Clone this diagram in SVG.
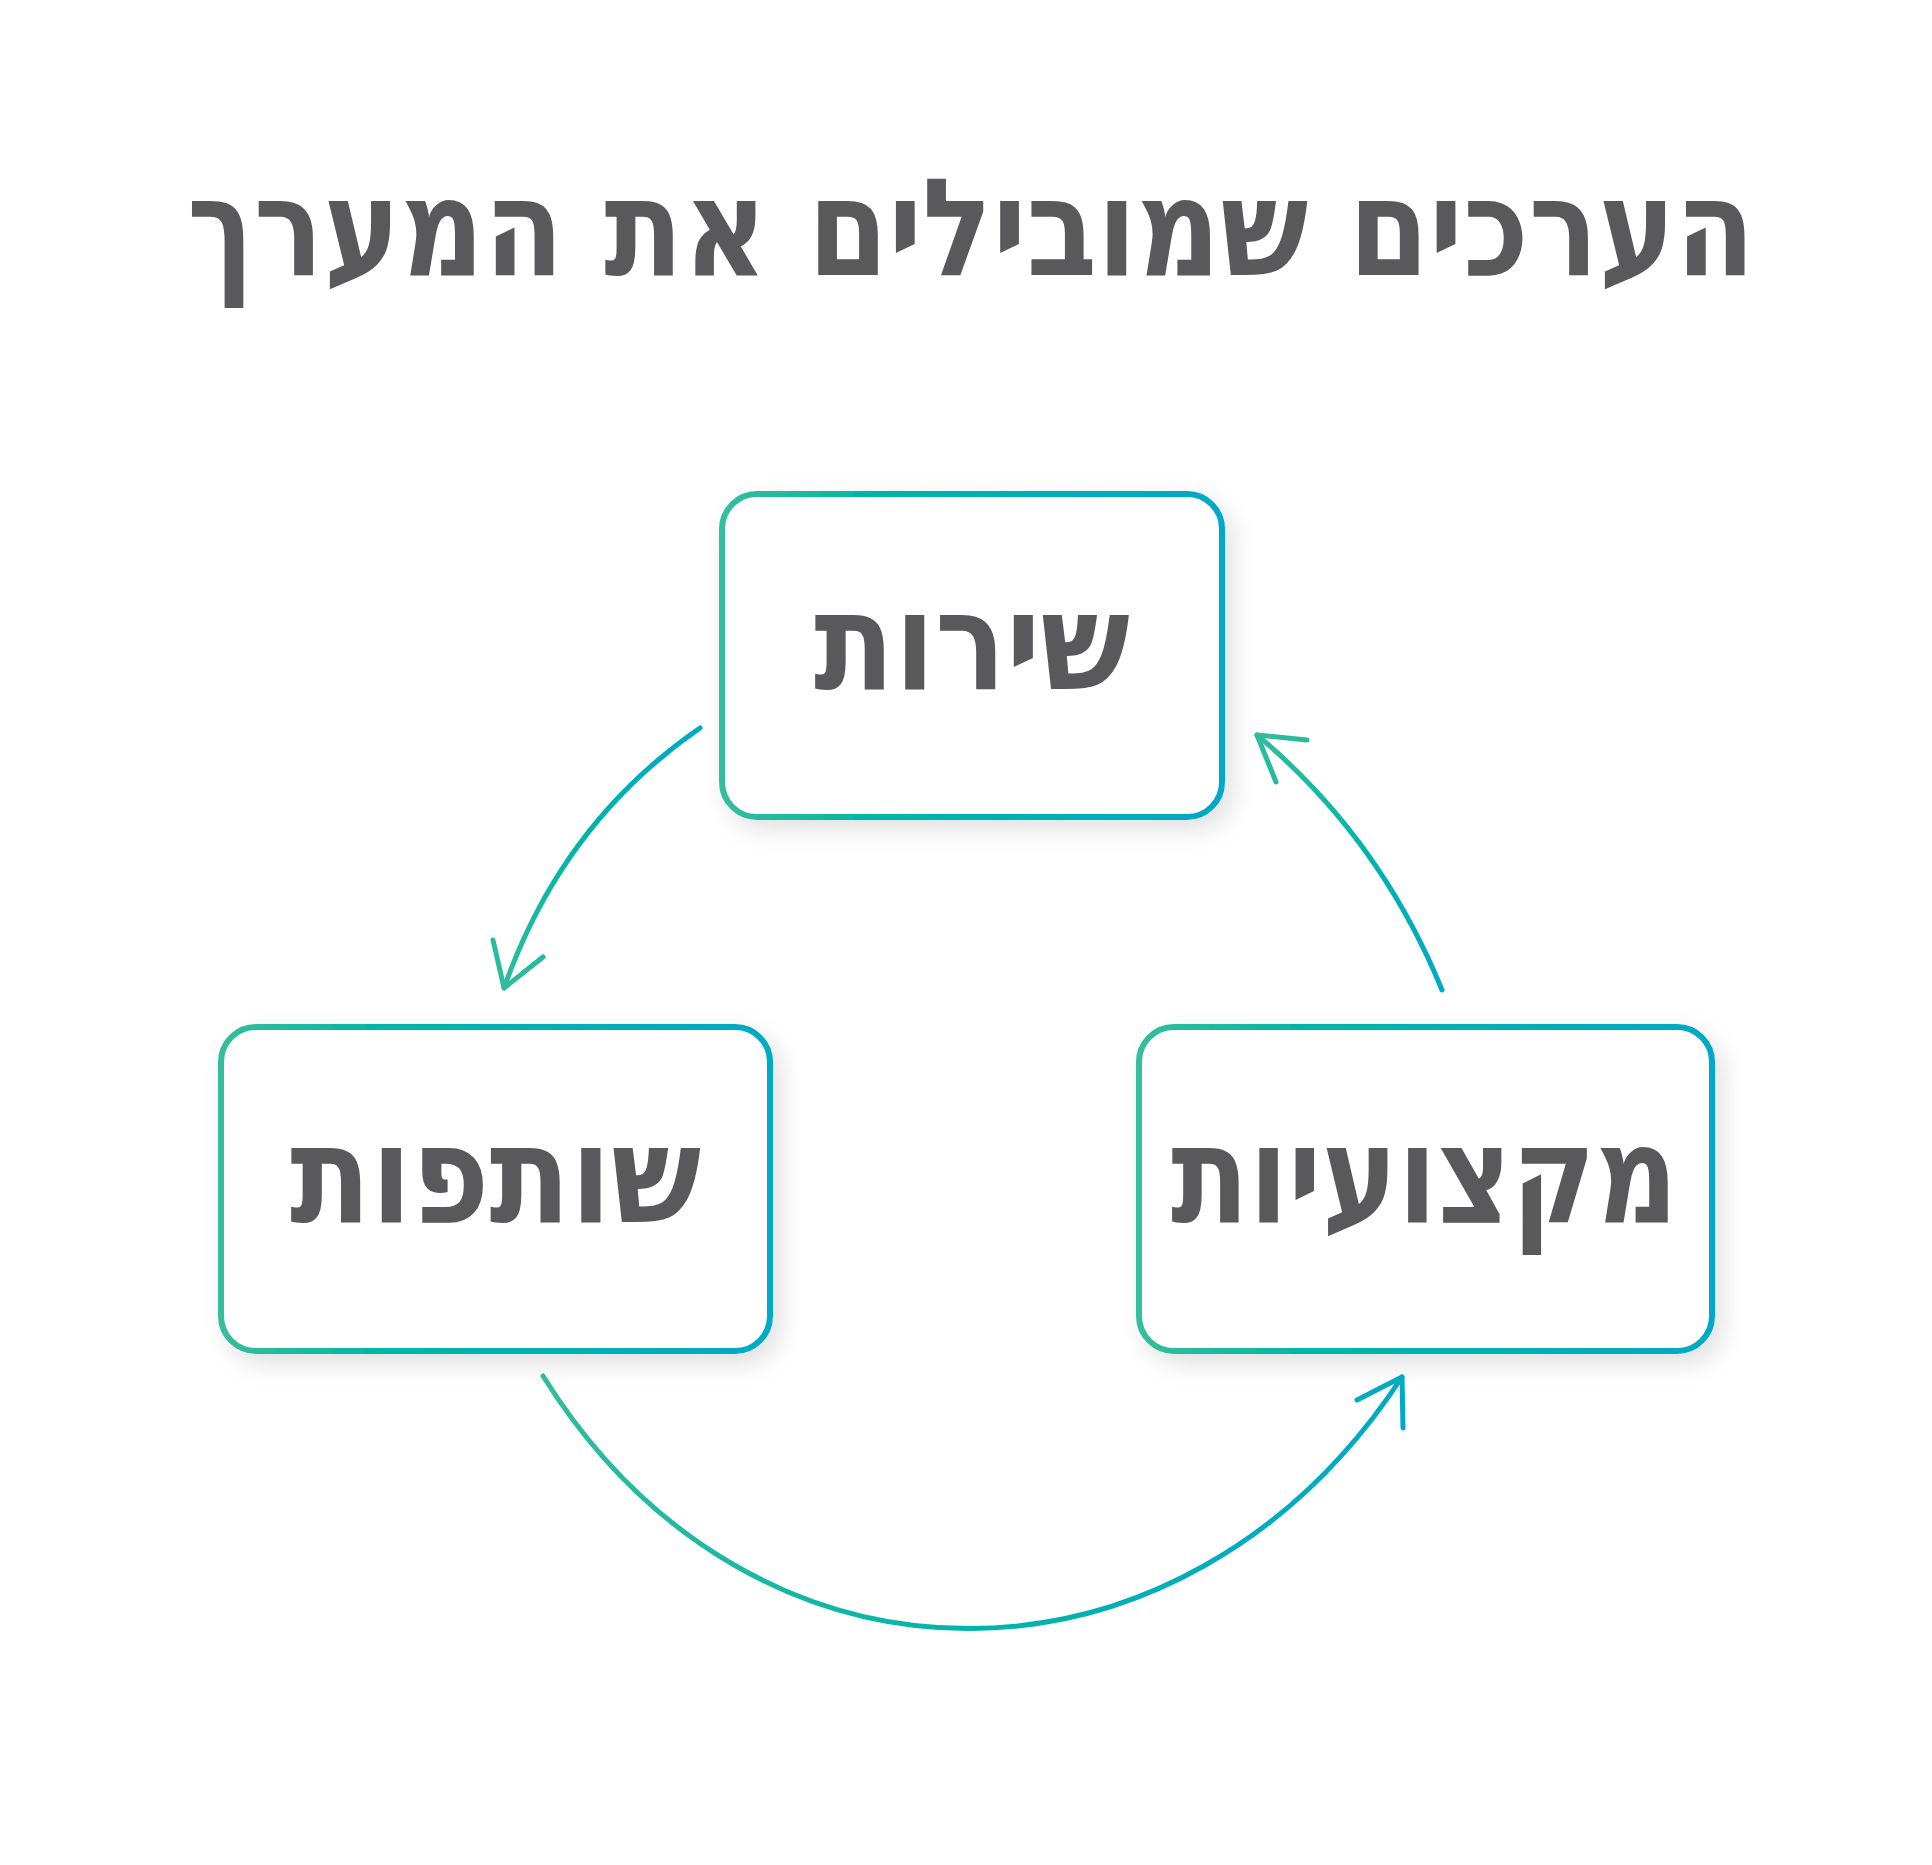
<svg xmlns="http://www.w3.org/2000/svg" width="1932" height="1865" viewBox="0 0 1932 1865">
  <style>
    .lbl { font-family: "DejaVu Sans", "Liberation Sans", sans-serif; font-weight: 700; fill: #59595b; font-size: 136px; }
    .box { fill: #ffffff; stroke: url(#boxGrad); stroke-width: 6; filter: url(#shadow); }
    .conn { fill: none; stroke-width: 5; stroke-linecap: round; stroke-linejoin: round; }
  </style>
  <defs>
    <linearGradient id="boxGrad" x1="0" y1="0" x2="1" y2="0">
      <stop offset="0" stop-color="#36bd9c"/>
      <stop offset="0.3" stop-color="#00b5a5"/>
      <stop offset="1" stop-color="#00a9c6"/>
    </linearGradient>
    <linearGradient id="g1" gradientUnits="userSpaceOnUse" x1="700" y1="728" x2="504" y2="988">
      <stop offset="0" stop-color="#00a9c6"/>
      <stop offset="0.5" stop-color="#00b4aa"/>
      <stop offset="1" stop-color="#30bd9c"/>
    </linearGradient>
    <linearGradient id="g2" gradientUnits="userSpaceOnUse" x1="1442" y1="990" x2="1257" y2="735">
      <stop offset="0" stop-color="#00a9c6"/>
      <stop offset="0.5" stop-color="#00b4aa"/>
      <stop offset="1" stop-color="#30bd9c"/>
    </linearGradient>
    <linearGradient id="g3" gradientUnits="userSpaceOnUse" x1="543" y1="0" x2="1403" y2="0">
      <stop offset="0" stop-color="#30bd9c"/>
      <stop offset="0.5" stop-color="#00b4aa"/>
      <stop offset="1" stop-color="#00a9c6"/>
    </linearGradient>
    <filter id="shadow" x="-20%" y="-20%" width="150%" height="150%">
      <feDropShadow dx="8" dy="10" stdDeviation="12" flood-color="#000000" flood-opacity="0.12"/>
    </filter>
  </defs>

  <rect width="1932" height="1865" fill="#ffffff"/>

  <g id="title">
    <text class="lbl" x="971" y="275" text-anchor="middle" direction="rtl" textLength="1568" lengthAdjust="spacingAndGlyphs">הערכים שמובילים את המערך</text>
  </g>

  <g id="node-sherut">
    <rect class="box" x="722" y="494" width="500" height="323" rx="35" ry="35"/>
    <text class="lbl" x="972" y="689" text-anchor="middle" direction="rtl" textLength="316" lengthAdjust="spacingAndGlyphs">שירות</text>
  </g>

  <g id="node-shutafut">
    <rect class="box" x="221" y="1027" width="549" height="324" rx="35" ry="35"/>
    <text class="lbl" x="495.5" y="1222" text-anchor="middle" direction="rtl" textLength="411" lengthAdjust="spacingAndGlyphs">שותפות</text>
  </g>

  <g id="node-miktzoiut">
    <rect class="box" x="1139" y="1027" width="573" height="324" rx="35" ry="35"/>
    <text class="lbl" x="1424.5" y="1222" text-anchor="middle" direction="rtl" textLength="507" lengthAdjust="spacingAndGlyphs">מקצועיות</text>
  </g>

  <g id="connectors">
    <path class="conn" stroke="url(#g1)" d="M700,728 Q562,823 504,988"/>
    <path class="conn" stroke="url(#g1)" d="M493,940 L504,988 L543,957"/>
    <path class="conn" stroke="url(#g2)" d="M1442,990 Q1380,838 1257,735"/>
    <path class="conn" stroke="url(#g2)" d="M1307,740 L1257,735 L1276,782"/>
    <path class="conn" stroke="url(#g3)" d="M543,1376 C754,1714 1183,1711 1402,1377"/>
    <path class="conn" stroke="url(#g3)" d="M1357,1400 L1402,1377 L1403,1428"/>
  </g>
</svg>
